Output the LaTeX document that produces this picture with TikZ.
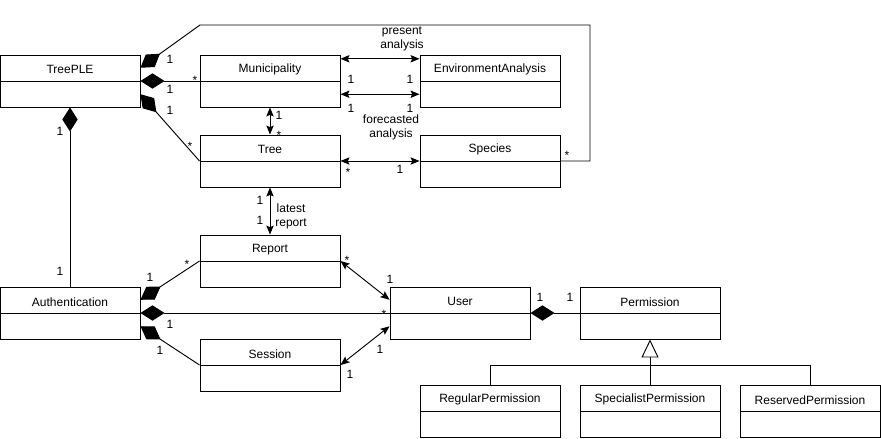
\documentclass[tikz,border=0pt]{standalone}
\usepackage{fontspec}
\setmainfont{Liberation Sans}
\usetikzlibrary{arrows.meta, calc}

\begin{document}
\begin{tikzpicture}[x=0.03cm, y=-0.03cm, line width=0.8pt,
			font=\fontsize{10.24pt}{11.9pt}\selectfont,
			clase/.style={draw, fill=white, minimum width=4.2cm, minimum height=1.56cm, inner sep=0pt,
			              path picture={\draw (path picture bounding box.west) -- (path picture bounding box.east);},
			              label={[anchor=base, yshift=0.335cm]center:#1}},
			etiq/.style={inner sep=0pt, anchor=base},
			nota/.style={inner sep=0pt, align=center},
			compos/.style={{Diamond[length=0.72cm, width=0.46cm]}-},
			asoc/.style={{Stealth[length=0.27cm, width=0.22cm, inset=0.05cm]}-{Stealth[length=0.27cm, width=0.22cm, inset=0.05cm]}},
			hereda/.style={-{Triangle[open, length=0.54cm, width=0.51cm, fill=white]}}]
			\useasboundingbox (0,0) rectangle (881,438);
			\node[clase=TreePLE] (tple) at (70,81) {};
			\node[clase=Municipality] (muni) at (270,81) {};
			\node[clase=EnvironmentAnalysis] (envan) at (490,81) {};
			\node[clase=Tree] (tree) at (270,161) {};
			\node[clase=Species] (spec) at (490,161) {};
			\node[clase=Report] (rep) at (270,261) {};
			\node[clase=Authentication] (auth) at (70,313) {};
			\node[clase=Session] (sess) at (270,365) {};
			\node[clase=User] (user) at (460,313) {};
			\node[clase=Permission] (perm) at (650,313) {};
			\node[clase=RegularPermission] (regp) at (490,411) {};
			\node[clase=SpecialistPermission] (spep) at (650,411) {};
			\node[clase=ReservedPermission] (resp) at (810,411) {};

			\draw[compos] ($(tple.north east)!.25!(tple.south east)$) -- (200,25) -- (590,25) |- (spec.east)
				node[etiq] at (170,63) {1} node[etiq] at (567,159) {*};
			\draw[compos] (tple.east) -- (muni.west)
				node[etiq] at (170,93) {1} node[etiq] at (195,84) {*};
			\draw[compos] ($(tple.north east)!.75!(tple.south east)$) -- (tree.west)
				node[etiq] at (170,114.5) {1} node[etiq] at (190,150) {*};
			\draw[compos] (tple.south) -- (auth.north)
				node[etiq] at (60,135) {1} node[etiq] at (60,275) {1};

			\draw[asoc] ($(muni.north east)!.08!(muni.south east)$) -- ($(envan.north west)!.08!(envan.south west)$)
				node[etiq] at (351,83.5) {1} node[etiq] at (410,83.5) {1}
				node[nota] at (402,38.5) {present\\analysis};
			\draw[asoc] ($(muni.north east)!.75!(muni.south east)$) -- ($(envan.north west)!.75!(envan.south west)$)
				node[etiq] at (351,112) {1} node[etiq] at (410,112) {1}
				node[nota] at (391,127.5) {forecasted\\analysis};
			\draw[asoc] (muni.south) -- (tree.north)
				node[etiq] at (279,119.5) {1} node[etiq] at (279,139) {*};
			\draw[asoc] (tree.east) -- (spec.west)
				node[etiq] at (348,176) {*} node[etiq] at (400,173.5) {1};
			\draw[asoc] (tree.south) -- (rep.north)
				node[etiq] at (260,204.5) {1} node[etiq] at (260,224.5) {1}
				node[nota] at (291,216.5) {latest\\report};

			\draw[compos] ($(auth.north east)!.25!(auth.south east)$) -- (rep.west)
				node[etiq] at (150,281) {1} node[etiq] at (187,268.5) {*};
			\draw[compos] (auth.east) -- (user.west)
				node[etiq] at (170,328.5) {1} node[etiq] at (384,318) {*};
			\draw[compos] ($(auth.north east)!.75!(auth.south east)$) -- (sess.west)
				node[etiq] at (160,354) {1};
			\draw[asoc] (rep.east) -- ($(user.north west)!.25!(user.south west)$)
				node[etiq] at (347,264) {*} node[etiq] at (390,283.5) {1};
			\draw[asoc] (sess.east) -- ($(user.north west)!.75!(user.south west)$)
				node[etiq] at (380,353) {1} node[etiq] at (350,378.5) {1};
			\draw[compos] (user.east) -- (perm.west)
				node[etiq] at (540,301) {1} node[etiq] at (570,301) {1};

			\coordinate (horq) at (650,365);
			\draw[hereda] (horq) -- (perm.south);
			\draw (regp.north) |- (horq) -| (resp.north);
			\draw (spep.north) -- (horq);
		\end{tikzpicture}
\end{document}
